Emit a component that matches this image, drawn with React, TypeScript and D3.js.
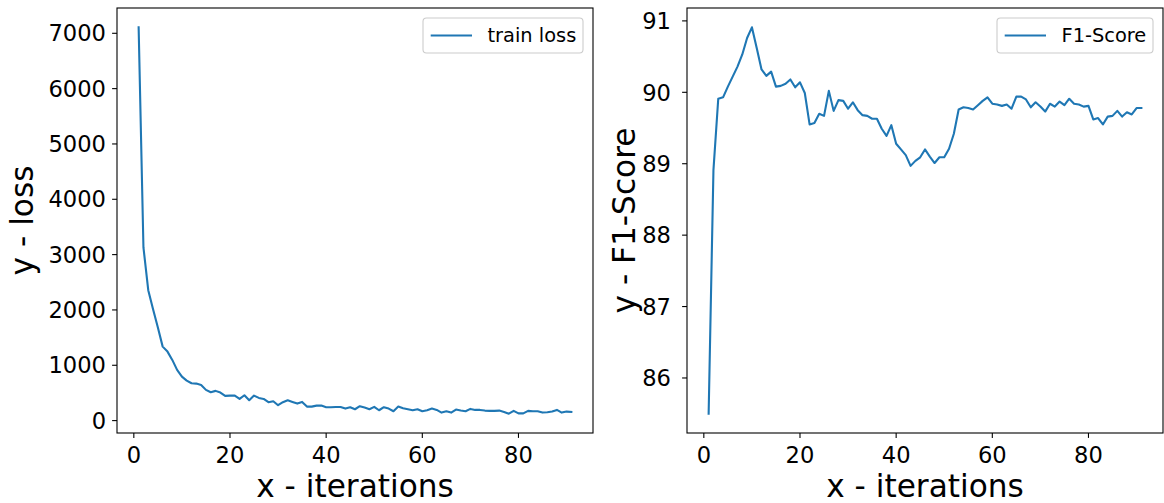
import React from "react";
import * as d3 from "d3";

const lossValues: number[] = [
  7108, 3130, 2358, 2013, 1681, 1337, 1247, 1097, 916, 795,
  723, 675, 669, 645, 555, 513, 537, 506, 446, 452,
  452, 392, 458, 368, 452, 410, 392, 332, 350, 278,
  332, 368, 338, 307, 338, 253, 253, 271, 271, 241,
  241, 247, 245, 217, 242, 205, 260, 236, 205, 248,
  187, 242, 217, 169, 254, 223, 205, 187, 205, 169,
  187, 217, 193, 145, 169, 145, 199, 181, 169, 211,
  193, 193, 181, 175, 175, 181, 157, 125, 175, 130,
  130, 175, 169, 169, 145, 151, 163, 193, 145, 163,
  157,
];

const f1Values: number[] = [
  85.5, 88.91, 89.91, 89.93, 90.08, 90.22, 90.36, 90.53, 90.76, 90.91,
  90.62, 90.32, 90.23, 90.29, 90.08, 90.09, 90.12, 90.18, 90.07, 90.14,
  89.99, 89.55, 89.57, 89.7, 89.67, 90.02, 89.74, 89.89, 89.88, 89.77,
  89.86, 89.75, 89.68, 89.67, 89.63, 89.63, 89.49, 89.39, 89.54, 89.28,
  89.2, 89.12, 88.97, 89.04, 89.09, 89.2, 89.1, 89.01, 89.09, 89.09,
  89.21, 89.42, 89.76, 89.79, 89.78, 89.76, 89.82, 89.88, 89.93, 89.84,
  89.83, 89.81, 89.83, 89.77, 89.94, 89.94, 89.9, 89.79, 89.86, 89.8,
  89.73, 89.84, 89.8, 89.87, 89.82, 89.91, 89.84, 89.83, 89.8, 89.81,
  89.62, 89.64, 89.55, 89.66, 89.67, 89.74, 89.66, 89.72, 89.69, 89.78,
  89.78,
];

const xTicks: number[] = [0, 20, 40, 60, 80];
const lossTicks: number[] = [0, 1000, 2000, 3000, 4000, 5000, 6000, 7000];
const f1Ticks: number[] = [86, 87, 88, 89, 90, 91];

const FONT = "DejaVu Sans";
const BLUE = "#1f77b4";
const TOP = 8;
const BOTTOM = 433;
const TICK_FS = 22.6;
const LABEL_FS = 31.2;

function padded(vals: number[]): [number, number] {
  const [mn, mx] = d3.extent(vals) as [number, number];
  const r = mx - mn;
  return [mn - 0.05 * r, mx + 0.05 * r];
}

interface PanelProps {
  left: number;
  right: number;
  values: number[];
  yTicks: number[];
  yLabel: string;
  legend: string;
  tickAnchorGap: number;
  yLabelX: number;
  legendWidth: number;
}

function Panel(p: PanelProps) {
  const xs = p.values.map((_, i) => i + 1);
  const x = d3.scaleLinear().domain(padded(xs)).range([p.left, p.right]);
  const y = d3.scaleLinear().domain(padded(p.values)).range([BOTTOM, TOP]);
  const line = d3
    .line<number>()
    .x((_, i) => x(i + 1))
    .y((d) => y(d));
  const cx = (p.left + p.right) / 2;
  const cy = (TOP + BOTTOM) / 2;
  const lgRight = p.right - 10;
  const lgLeft = lgRight - p.legendWidth;
  return (
    <g>
      <path d={line(p.values) || ""} fill="none" stroke={BLUE} strokeWidth={2.1} strokeLinejoin="round" strokeLinecap="square" />
      <rect x={p.left} y={TOP} width={p.right - p.left} height={BOTTOM - TOP} fill="none" stroke="#000" strokeWidth={1.1} />
      {xTicks.map((t) => (
        <g key={"x" + t}>
          <line x1={x(t)} x2={x(t)} y1={BOTTOM} y2={BOTTOM + 4.9} stroke="#000" strokeWidth={1.1} />
          <text x={x(t)} y={462.5} textAnchor="middle" fontFamily={FONT} fontSize={TICK_FS} fill="#000">
            {t}
          </text>
        </g>
      ))}
      {p.yTicks.map((t) => (
        <g key={"y" + t}>
          <line x1={p.left - 4.9} x2={p.left} y1={y(t)} y2={y(t)} stroke="#000" strokeWidth={1.1} />
          <text x={p.left - p.tickAnchorGap} y={y(t) + 8.2} textAnchor="end" fontFamily={FONT} fontSize={TICK_FS} fill="#000">
            {t}
          </text>
        </g>
      ))}
      <text x={cx} y={497} textAnchor="middle" fontFamily={FONT} fontSize={LABEL_FS} fill="#000">
        x - iterations
      </text>
      <text
        transform={`translate(${p.yLabelX},${cy}) rotate(-90)`}
        textAnchor="middle"
        fontFamily={FONT}
        fontSize={LABEL_FS}
        fill="#000"
      >
        {p.yLabel}
      </text>
      <rect x={lgLeft} y={18} width={p.legendWidth} height={35} rx={3.5} fill="#fff" fillOpacity={0.8} stroke="#cccccc" strokeWidth={1.1} />
      <line x1={lgLeft + 7.7} x2={lgLeft + 49} y1={35.5} y2={35.5} stroke={BLUE} strokeWidth={2.1} />
      <text x={lgLeft + 64.5} y={42.3} fontFamily={FONT} fontSize={19.4} fill="#000">
        {p.legend}
      </text>
    </g>
  );
}

export default function App() {
  return (
    <div style={{ position: "absolute", left: 0, top: 0 }}>
      <svg width={1164} height={503} viewBox="0 0 1164 503" style={{ display: "block", background: "#fff" }}>
        <rect x={0} y={0} width={1164} height={503} fill="#fff" />
        <Panel
          left={117}
          right={593}
          values={lossValues}
          yTicks={lossTicks}
          yLabel="y - loss"
          legend="train loss"
          tickAnchorGap={11}
          yLabelX={33}
          legendWidth={160}
        />
        <Panel
          left={687}
          right={1163}
          values={f1Values}
          yTicks={f1Ticks}
          yLabel="y - F1-Score"
          legend="F1-Score"
          tickAnchorGap={16}
          yLabelX={634.5}
          legendWidth={156}
        />
      </svg>
    </div>
  );
}
